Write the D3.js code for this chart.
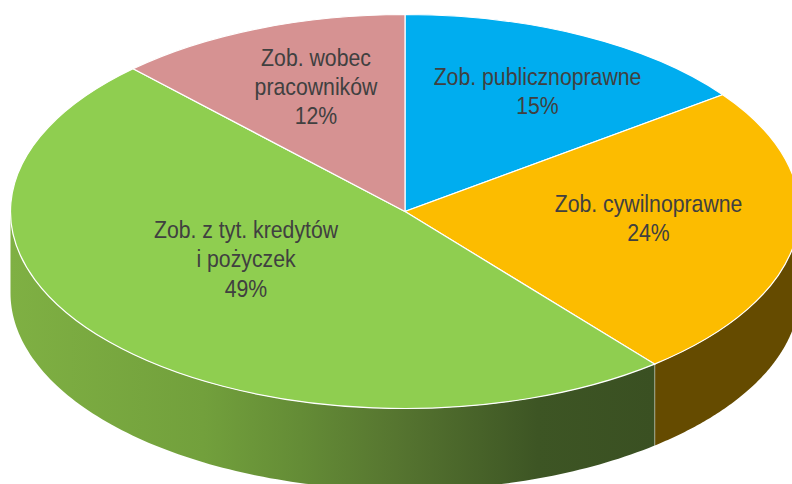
<!DOCTYPE html>
<html><head><meta charset="utf-8">
<script src="https://cdn.jsdelivr.net/npm/d3@7/dist/d3.min.js"></script>
<style>html,body{margin:0;padding:0;background:#fff;overflow:hidden}svg{display:block}
text{font-family:"Liberation Sans",sans-serif;font-size:24px;fill:#404040;text-anchor:middle}</style>
</head><body><svg id="c" width="792" height="484"></svg>
<script>
const categories=["Zob. publicznoprawne","Zob. cywilnoprawne","Zob. z tyt. kredytów|i pożyczek","Zob. wobec|pracowników"];
const values=[14.9,24.2,48.8,12.1];
const topColors=["#00adef","#fcbc00","#8fce50","#d69292"];
const wallColors=["#006a92","#654b00","url(#greenWall)","#8a5c5c"];
const labelSpots=[[537.5,85],[648.5,212],[246,238],[316,65.5]];
const W=792,H=484,cx=405,cy=211.5,rx=394.5,ry=197,depth=81.5;
const svg=d3.select("#c");
const grad=svg.append("defs").append("linearGradient").attr("id","greenWall")
  .attr("gradientUnits","userSpaceOnUse").attr("x1",cx-rx).attr("x2",654).attr("y1",0).attr("y2",0);
[[0,"#7fb043"],[.3,"#72a03c"],[.45,"#648c36"],[.6,"#567530"],[.82,"#3d5524"],[1,"#3a5022"]].forEach(([o,c])=>grad.append("stop").attr("offset",o).attr("stop-color",c));
const pie=d3.pie().sort(null).value(d=>d);
const arcs=pie(values);
const xS=d3.scaleLinear().domain([-1,1]).range([cx-rx,cx+rx]);
const yS=d3.scaleLinear().domain([-1,1]).range([cy-ry,cy+ry]);
const px=a=>xS(Math.sin(a)),py=a=>yS(-Math.cos(a));
const line=d3.line();
arcs.forEach((d,i)=>{
  const a0=Math.max(d.startAngle,Math.PI/2),a1=Math.min(d.endAngle,3*Math.PI/2);
  if(a1<=a0)return;
  const n=120,st=d3.range(n+1).map(k=>a0+(a1-a0)*k/n);
  const top=st.map(a=>[px(a),py(a)]);
  const bot=st.slice().reverse().map(a=>[px(a),py(a)+depth]);
  svg.append("path").attr("d",line(top.concat(bot))+"Z").attr("fill",wallColors[i]);
  if(d.endAngle<3*Math.PI/2){
    const e=d.endAngle;
    svg.append("path").attr("d",line([[px(e),py(e)],[px(e),py(e)+depth]])).attr("stroke","#fff").attr("stroke-opacity",.85).attr("stroke-width",1.2);
  }
});
const unit=1000;
const arc=d3.arc().innerRadius(0).outerRadius(unit);
svg.append("g").attr("transform",`translate(${cx},${cy}) scale(${rx/unit},${ry/unit})`)
 .selectAll("path").data(arcs).join("path")
 .attr("d",arc).attr("fill",(d,i)=>topColors[i])
 .attr("stroke","#fff").attr("stroke-width",1.2).attr("vector-effect","non-scaling-stroke");
arcs.forEach((d,i)=>{
  const lines=categories[i].split("|").concat(Math.round(values[i])+"%");
  const t=svg.append("text").attr("transform",`translate(${labelSpots[i][0]},${labelSpots[i][1]}) scale(.885,1)`);
  lines.forEach((s,k)=>t.append("tspan").attr("x",0).attr("y",k*29.5).text(s));
});
</script></body></html>
